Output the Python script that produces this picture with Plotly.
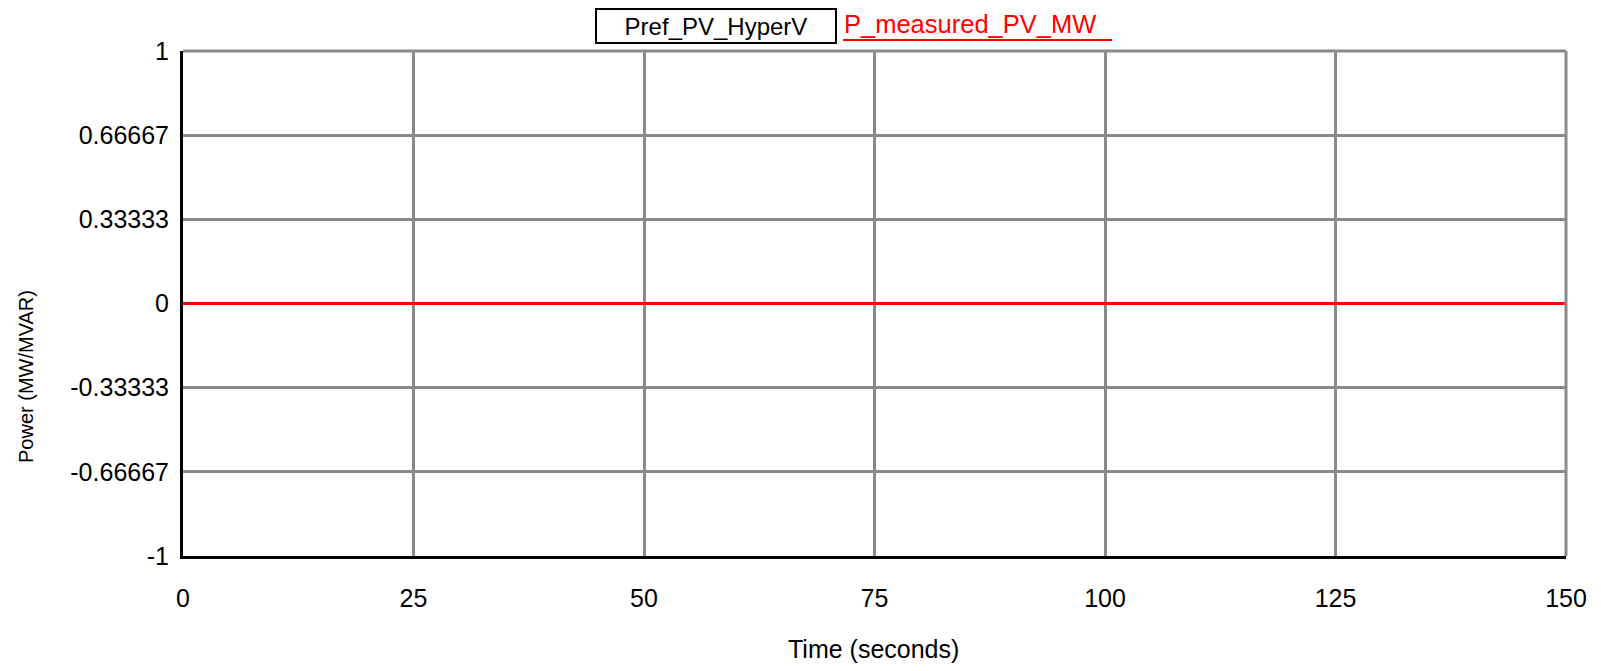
import plotly.graph_objects as go

time_s = [0, 150]
pref_pv_hyperv = [0, 0]
p_measured_pv_mw = [0, 0]

y_tickvals = [-1, -0.66667, -0.33333, 0, 0.33333, 0.66667, 1]
y_ticktext = ["-1", "-0.66667", "-0.33333", "0", "0.33333", "0.66667", "1"]
x_tickvals = [0, 25, 50, 75, 100, 125, 150]

FONT = "Liberation Sans, Arial, sans-serif"
GRID = "#8a8a8a"

fig = go.Figure()
fig.add_trace(go.Scatter(x=time_s, y=pref_pv_hyperv, mode="lines", name="Pref_PV_HyperV",
                         line=dict(color="black", width=3), showlegend=False))
fig.add_trace(go.Scatter(x=time_s, y=p_measured_pv_mw, mode="lines", name="P_measured_PV_MW",
                         line=dict(color="#ff0000", width=3), showlegend=False))

# page body has an 8px margin, so plot area ends up at x 183..1566, y 51..556
fig.update_layout(
    width=1601, height=671,
    margin=dict(l=175, r=43, t=43, b=123, autoexpand=False),
    paper_bgcolor="white", plot_bgcolor="white",
    font=dict(family=FONT, size=25, color="black"),
    showlegend=False,
)
fig.update_xaxes(range=[0, 150], tickvals=x_tickvals, showgrid=True, gridcolor=GRID, gridwidth=3,
                 zeroline=False, showline=True, linecolor="black", linewidth=3, ticks="",
                 ticklabelstandoff=18, tickfont=dict(size=25), automargin=False)
fig.update_yaxes(range=[-1, 1], tickvals=y_tickvals, ticktext=y_ticktext, showgrid=True,
                 gridcolor=GRID, gridwidth=3, zeroline=False, showline=True, linecolor="black",
                 linewidth=3, ticks="", ticklabelstandoff=6, tickfont=dict(size=25), automargin=False)

# top/right frame edges (gray)
fig.add_shape(type="line", xref="paper", yref="paper", x0=0, x1=1, y0=1, y1=1,
              line=dict(color=GRID, width=3))
fig.add_shape(type="line", xref="paper", yref="paper", x0=1, x1=1, y0=0, y1=1,
              line=dict(color=GRID, width=3))

W = 1383.0
H = 505.0
def px(xp):
    return (xp - 183) / W
def py(yp):
    return (556 - yp) / H

# legend labels
fig.add_annotation(xref="paper", yref="paper", x=px(716), y=py(26.5), xanchor="center", yanchor="middle",
                   text="Pref_PV_HyperV", showarrow=False, font=dict(size=24, color="black"),
                   bordercolor="black", borderwidth=2, borderpad=2, width=234, height=28,
                   bgcolor="white")
fig.add_annotation(xref="paper", yref="paper", x=px(970), y=py(24), xanchor="center", yanchor="middle",
                   text="P_measured_PV_MW", showarrow=False, font=dict(size=25.5, color="#ff0000"))
fig.add_shape(type="line", xref="paper", yref="paper", x0=px(843), x1=px(1112), y0=py(40), y1=py(40),
              line=dict(color="#ff0000", width=2))

# axis titles
fig.add_annotation(xref="paper", yref="paper", x=px(873), y=py(649), xanchor="center", yanchor="middle",
                   text="Time (seconds)", showarrow=False, font=dict(size=25, color="black"))
fig.add_annotation(xref="paper", yref="paper", x=px(26), y=py(377), xanchor="center", yanchor="middle",
                   text="Power (MW/MVAR)", showarrow=False, textangle=-90,
                   font=dict(size=20, color="black"))

fig.write_html("out.html")
